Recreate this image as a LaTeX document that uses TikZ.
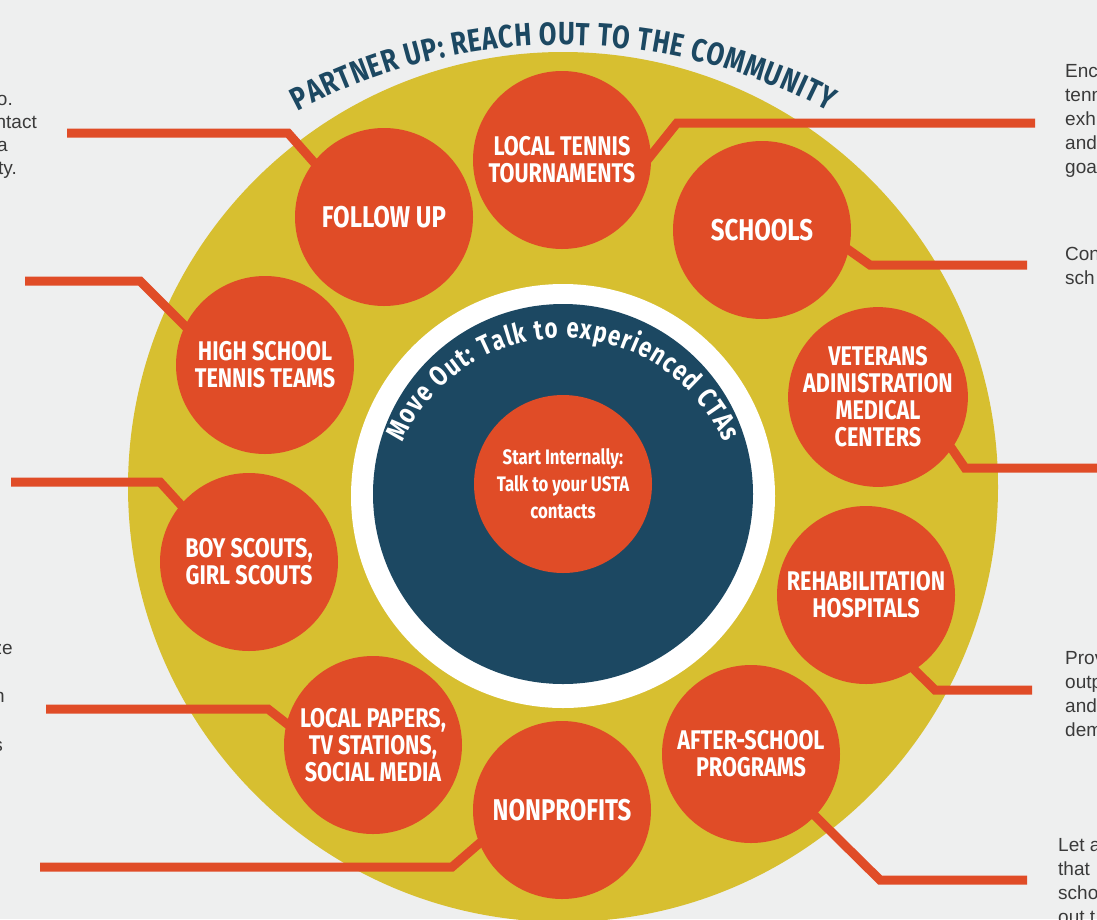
\documentclass[tikz,border=0pt]{standalone}
\usepackage{fontspec}
\setmainfont{Liberation Sans}
\newfontfamily\condf[FakeStretch=0.8]{Fira Sans}
\usetikzlibrary{decorations.text}
\definecolor{bgc}{HTML}{EEEFEF}
\definecolor{ylw}{HTML}{D7BF30}
\definecolor{org}{HTML}{E04C27}
\definecolor{navy}{HTML}{1C4862}
\definecolor{gtxt}{HTML}{3A3A3A}
\pgfdeclarelayer{back}
\pgfdeclarelayer{mid}
\pgfsetlayers{back,mid,main}
\begin{document}
\begin{tikzpicture}[x=1pt,y=-1pt,
  sat/.style={circle, fill=org, minimum size=178pt, inner sep=0pt, text=white, align=center,
    font=\condf\bfseries\fontsize{27}{27}\selectfont},
  satbig/.style={sat, font=\condf\bfseries\fontsize{30}{30}\selectfont},
  conn/.style={draw=org, line width=9pt, shorten >=-15pt},
  side/.style={font=\fontsize{19}{23}\selectfont, text=gtxt, inner sep=0pt}]
\useasboundingbox (0,0) rectangle (1097,919);
\begin{pgfonlayer}{back}
\fill[bgc] (0,0) rectangle (1097,919);
\fill[ylw] (563,487) circle[radius=435pt];
\end{pgfonlayer}

% satellite circles
\node[sat] (tn) at (562,160) {LOCAL TENNIS\\TOURNAMENTS};
\node[satbig] (sc) at (762,230) {SCHOOLS};
\node[sat] (ve) at (878,397) {VETERANS\\ADINISTRATION\\MEDICAL\\CENTERS};
\node[sat] (rh) at (866,595) {REHABILITATION\\HOSPITALS};
\node[sat] (as) at (751,754) {AFTER-SCHOOL\\PROGRAMS};
\node[satbig] (np) at (562,810) {NONPROFITS};
\node[sat] (lp) at (373,745) {LOCAL PAPERS,\\TV STATIONS,\\SOCIAL MEDIA};
\node[sat] (bs) at (249,562) {BOY SCOUTS,\\GIRL SCOUTS};
\node[sat] (hs) at (265,365) {HIGH SCHOOL\\TENNIS TEAMS};
\node[satbig] (fu) at (384,217) {FOLLOW UP};

% connectors
\coordinate (fuA) at (67,133);   \coordinate (fuB) at (288,133);
\coordinate (hsA) at (25,281);   \coordinate (hsB) at (140,281);
\coordinate (bsA) at (11,482);   \coordinate (bsB) at (160,482);
\coordinate (lpA) at (46,709);   \coordinate (lpB) at (268,709);
\coordinate (npA) at (40,867);   \coordinate (npB) at (452,867);
\coordinate (tnA) at (1035,123); \coordinate (tnB) at (677,123);
\coordinate (scA) at (1027,265); \coordinate (scB) at (870,265);
\coordinate (veA) at (1097,468); \coordinate (veB) at (965,468);
\coordinate (rhA) at (1032,690); \coordinate (rhB) at (935,690);
\coordinate (asA) at (1027,880); \coordinate (asB) at (880,880);
\begin{pgfonlayer}{mid}
\draw[conn] (fuA) -- (fuB) -- (fu.142);
\draw[conn] (hsA) -- (hsB) -- (hs.154);
\draw[conn] (bsA) -- (bsB) -- (bs.140);
\draw[conn] (lpA) -- (lpB) -- (lp.166);
\draw[conn] (npA) -- (npB) -- (np.202);
\draw[conn] (tnA) -- (tnB) -- (tn.3);
\draw[conn] (scA) -- (scB) -- (sc.-13);
\draw[conn] (veA) -- (veB) -- (ve.-35);
\draw[conn] (rhA) -- (rhB) -- (rh.-57);
\draw[conn] (asA) -- (asB) -- (as.-44);
\end{pgfonlayer}

% inner rings
\fill[white] (563,496) circle[radius=212pt];
\fill[navy] (563,494) circle[radius=190pt];
\node[circle, fill=org, minimum size=178pt, inner sep=0pt, text=white, align=center,
  font=\condf\bfseries\fontsize{21}{27}\selectfont] (st) at (563,484)
  {Start Internally:\\Talk to your USTA\\contacts};

% curved texts
\path[decorate, decoration={text along path, text align=fit to path,
  text={|\condf\bfseries\fontsize{32}{32}\selectfont\color{navy}|PARTNER UP: REACH OUT TO THE COMMUNITY}}]
  ([shift={(118:565pt)}]563,610) arc[start angle=118, end angle=62, radius=565pt];
\path[decorate, decoration={text along path, text align=fit to path,
  text={|\condf\bfseries\fontsize{28}{28}\selectfont\color{white}|Move Out: Talk to experienced CTAs}}]
  ([shift={(156:176pt)}]563,514) arc[start angle=156, end angle=24, radius=176pt];

% side text fragments
\node[side, anchor=base east] (l1) at (13,105) {o.};
\node[side, anchor=base east] (l2) at (37,128) {ntact};
\node[side, anchor=base east] (l3) at (8,151) {a};
\node[side, anchor=base east] (l4) at (17,174) {ty.};
\node[side, anchor=base east] (l5) at (13,654) {ze};
\node[side, anchor=base east] (l6) at (5,702) {n};
\node[side, anchor=base east] (l7) at (3,751) {s};

\node[side, anchor=base west] (r1) at (1065,77) {Enc};
\node[side, anchor=base west] (r2) at (1065,101) {tenn};
\node[side, anchor=base west] (r3) at (1065,125) {exh};
\node[side, anchor=base west] (r4) at (1065,149) {and};
\node[side, anchor=base west] (r5) at (1065,173) {goa};
\node[side, anchor=base west] (r6) at (1065,260) {Con};
\node[side, anchor=base west] (r7) at (1065,284) {sch};
\node[side, anchor=base west] (r8) at (1065,664) {Prov};
\node[side, anchor=base west] (r9) at (1065,688) {outp};
\node[side, anchor=base west] (r10) at (1065,712) {and};
\node[side, anchor=base west] (r11) at (1065,736) {dem};
\node[side, anchor=base west] (r12) at (1058,851) {Let a};
\node[side, anchor=base west] (r13) at (1058,875) {that};
\node[side, anchor=base west] (r14) at (1058,899) {scho};
\node[side, anchor=base west] (r15) at (1058,923) {out t};
\end{tikzpicture}
\end{document}
